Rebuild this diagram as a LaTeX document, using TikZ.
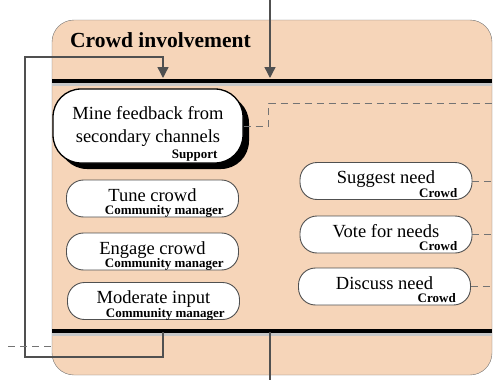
\documentclass[tikz,border=0pt]{standalone}
\usepackage{fontspec}
\setmainfont{Liberation Serif}
\usepackage{tikz}
\usetikzlibrary{arrows.meta, shadows}

\definecolor{lanefill}{RGB}{246,213,185}
\definecolor{edgegray}{RGB}{80,80,80}

\begin{document}
\begin{tikzpicture}[x=1pt, y=-1pt,
    every node/.style={font=\fontsize{18.5}{23}\selectfont, text=black},
    pill/.style={draw=edgegray, fill=white, line width=0.9pt, rounded corners=17pt, inner sep=0pt},
    task/.style={pill, minimum width=172pt, minimum height=37pt, text height=13pt, text depth=8pt},
    role/.style={font=\fontsize{13}{14}\selectfont\bfseries, inner sep=0pt, anchor=base east, xshift=-15pt, yshift=2.5pt},
    flow/.style={draw=edgegray, line width=1.4pt},
    link/.style={draw=black!55, line width=1pt, dash pattern=on 7pt off 5pt}]
    \useasboundingbox (0,0) rectangle (493,380);

    % Swim lane
    \draw[draw=black!55, fill=lanefill, rounded corners=22pt] (52,20) rectangle (492,375);
    \node[font=\fontsize{21.5}{24}\selectfont\bfseries, anchor=base west, inner sep=0pt] (title) at (70,47) {Crowd involvement};

    % Lane bars
    \draw[black!22, line width=3pt] (52,84) -- (492,84);
    \draw[black, line width=4pt] (52,80.5) -- (492,80.5);
    \draw[black!22, line width=3pt] (52,334) -- (492,334);
    \draw[black, line width=4pt] (52,330.5) -- (492,330.5);

    % Free ends
    \coordinate (laneR) at (492,0);
    \coordinate (topIn) at (270,0);
    \coordinate (topBar) at (270,78);
    \coordinate (botBar) at (270,332);
    \coordinate (botOut) at (270,380);
    \coordinate (loopOut) at (163,332);
    \coordinate (loopIn) at (163,78);
    \coordinate (sideIn) at (8,346);
    \coordinate (sideLane) at (52,346);
    \coordinate (feedOut) at (493,103);

    % Activities
    \node[pill, line width=1.3pt, draw=black, rounded corners=28pt, minimum width=190pt, minimum height=74pt, align=center,
          drop shadow={shadow xshift=6pt, shadow yshift=-6pt, fill=black, opacity=1},
          label={[role, xshift=-11pt, yshift=2.5pt]south east:Support}] (mine) at (148,126) {Mine feedback from\\secondary channels};
    \node[task, label={[role]south east:Community manager}] (tune) at (152.5,198.5) {Tune crowd};
    \node[task, label={[role]south east:Community manager}] (engage) at (152.5,251.5) {Engage crowd};
    \node[task, label={[role]south east:Community manager}] (moderate) at (153.5,301) {Moderate input};
    \node[task, label={[role]south east:Crowd}] (suggest) at (386,181) {Suggest need};
    \node[task, label={[role]south east:Crowd}] (vote) at (386,234.5) {Vote for needs};
    \node[task, label={[role]south east:Crowd}] (discuss) at (384.5,286.5) {Discuss need};

    % Sequence flow
    \draw[flow, -{Triangle[width=11pt, length=11pt]}] (topIn) -- (topBar);
    \draw[flow] (botBar) -- (botOut);
    \draw[flow, -{Triangle[width=11pt, length=11pt]}] (loopOut) -- ++(0,25) -| (25,57) -| (loopIn);

    % Message links
    \draw[link] (sideIn) -- (sideLane);
    \draw[link] (mine.east) -- ++(25,0) |- (feedOut);
    \draw[link] (suggest.east) -- (suggest.east -| laneR);
    \draw[link] (vote.east) -- (vote.east -| laneR);
    \draw[link] (discuss.east) -- (discuss.east -| laneR);
\end{tikzpicture}
\end{document}
